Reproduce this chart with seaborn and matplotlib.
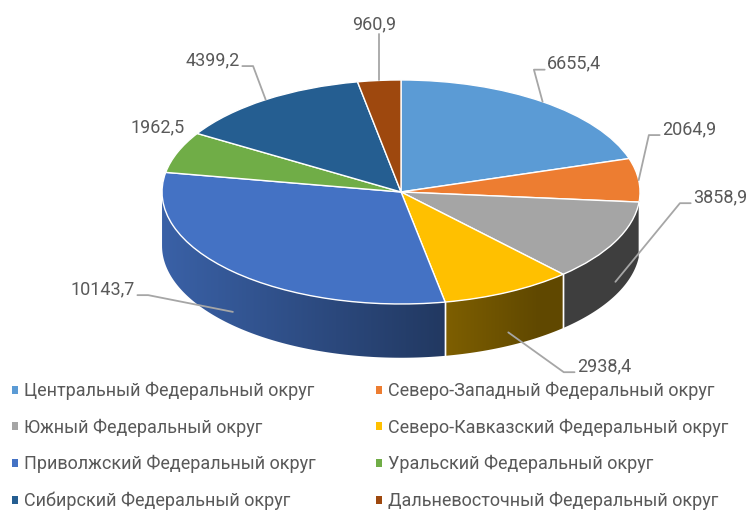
import numpy as np
import matplotlib.pyplot as plt
from matplotlib.patches import Patch, Polygon
import seaborn as sns

# Data
districts = [
    "Центральный Федеральный округ",
    "Северо-Западный Федеральный округ",
    "Южный Федеральный округ",
    "Северо-Кавказский Федеральный округ",
    "Приволжский Федеральный округ",
    "Уральский Федеральный округ",
    "Сибирский Федеральный округ",
    "Дальневосточный Федеральный округ",
]
values = [6655.4, 2064.9, 3858.9, 2938.4, 10143.7, 1962.5, 4399.2, 960.9]
value_labels = ["6655,4", "2064,9", "3858,9", "2938,4", "10143,7", "1962,5", "4399,2", "960,9"]
colors = ["#5B9BD5", "#ED7D31", "#A5A5A5", "#FFC000",
          "#4472C4", "#70AD47", "#255E91", "#9E480E"]

# Layout of value labels (data units of the flattened pie)
label_xy = [(0.611, 1.147), (1.092, 0.563), (1.222, -0.045), (0.736, -1.554),
            (-1.113, -0.866), (-0.904, 0.58), (-0.674, 1.179), (-0.113, 1.496)]
label_ha = ["left", "left", "left", "left", "right", "right", "right", "center"]
show_leader = [True, True, True, True, True, False, True, True]

DEPTH = 0.48
TEXT_COLOR = "#595959"
LINE_COLOR = "#A6A6A6"

sns.set_theme(style="white")
plt.rcParams["font.family"] = ["Roboto", "DejaVu Sans"]

palette = sns.color_palette(colors)

fig = plt.figure(figsize=(7.49, 5.15), dpi=100)
ax = fig.add_axes([0, 0, 1, 1])

wedges, _ = ax.pie(values, colors=palette, startangle=90, counterclock=False,
                   wedgeprops=dict(edgecolor="white", linewidth=1.0, zorder=3))


def shade(x):
    # darker to the right, like Excel's 3D lighting
    return np.maximum(0.38, 0.55 - 0.3 * x)


# ─── side wall of the "3D" pie ───────────────────────────────────────────────
for w, col in zip(wedges, palette):
    a, b = max(w.theta1, -180), min(w.theta2, 0)
    if b <= a:
        continue
    ts = np.radians(np.linspace(a, b, 120))
    top = np.column_stack([np.cos(ts), np.sin(ts)])
    bot = np.column_stack([np.cos(ts[::-1]), np.sin(ts[::-1]) - DEPTH])
    poly = Polygon(np.vstack([top, bot]), closed=True, facecolor="none",
                   edgecolor="none", zorder=1)
    ax.add_patch(poly)
    x0, x1 = top[:, 0].min(), top[:, 0].max()
    y0, y1 = bot[:, 1].min(), top[:, 1].max()
    xs = np.linspace(x0, x1, 256)
    img = np.array(col)[None, None, :] * shade(xs)[None, :, None]
    im = ax.imshow(img, extent=[x0, x1, y0, y1], aspect="auto",
                   interpolation="bilinear", zorder=1)
    im.set_clip_path(poly)
    # white seams between slices on the front side
    for th in (w.theta1, w.theta2):
        t = np.radians(th)
        if np.sin(t) < -0.01:
            ax.plot([np.cos(t), np.cos(t)], [np.sin(t), np.sin(t) - DEPTH],
                    color="white", lw=1.0, zorder=2)

# ─── value labels with leader lines ─────────────────────────────────────────
for w, txt, (tx, ty), ha, lead in zip(wedges, value_labels, label_xy, label_ha, show_leader):
    m = np.radians((w.theta1 + w.theta2) / 2)
    axp, ayp = np.cos(m), np.sin(m)
    if ayp < 0:
        ayp -= DEPTH * 0.75
    ax.text(tx, ty, txt, ha=ha, va="center", fontsize=13, color=TEXT_COLOR, zorder=5)
    if not lead:
        continue
    if ha == "center":
        ax.plot([axp, axp], [ty - 0.09, ayp], color=LINE_COLOR, lw=1.3, zorder=4)
    else:
        sgn = -1 if ha == "left" else 1
        yb = ty - 0.055
        ax.plot([tx + sgn * 0.01, tx + sgn * 0.055, axp], [yb, yb, ayp],
                color=LINE_COLOR, lw=1.3, zorder=4)

ax.set_aspect("auto")
ax.set_xlim(-1.678, 1.456)
ax.set_ylim(-2.884, 1.714)
ax.axis("off")

# ─── legend in two columns ──────────────────────────────────────────────────
handles = [Patch(facecolor=c, edgecolor="none") for c in palette]
legend_kw = dict(frameon=False, fontsize=13, labelcolor=TEXT_COLOR,
                 handlelength=0.32, handleheight=0.32, handletextpad=0.35,
                 labelspacing=1.02, borderpad=0, borderaxespad=0, loc="upper left")
fig.legend(handles[0::2], districts[0::2], bbox_to_anchor=(12 / 749, 1 - 382 / 515), **legend_kw)
fig.legend(handles[1::2], districts[1::2], bbox_to_anchor=(376 / 749, 1 - 382 / 515), **legend_kw)

fig.savefig("out.png", dpi=100)
